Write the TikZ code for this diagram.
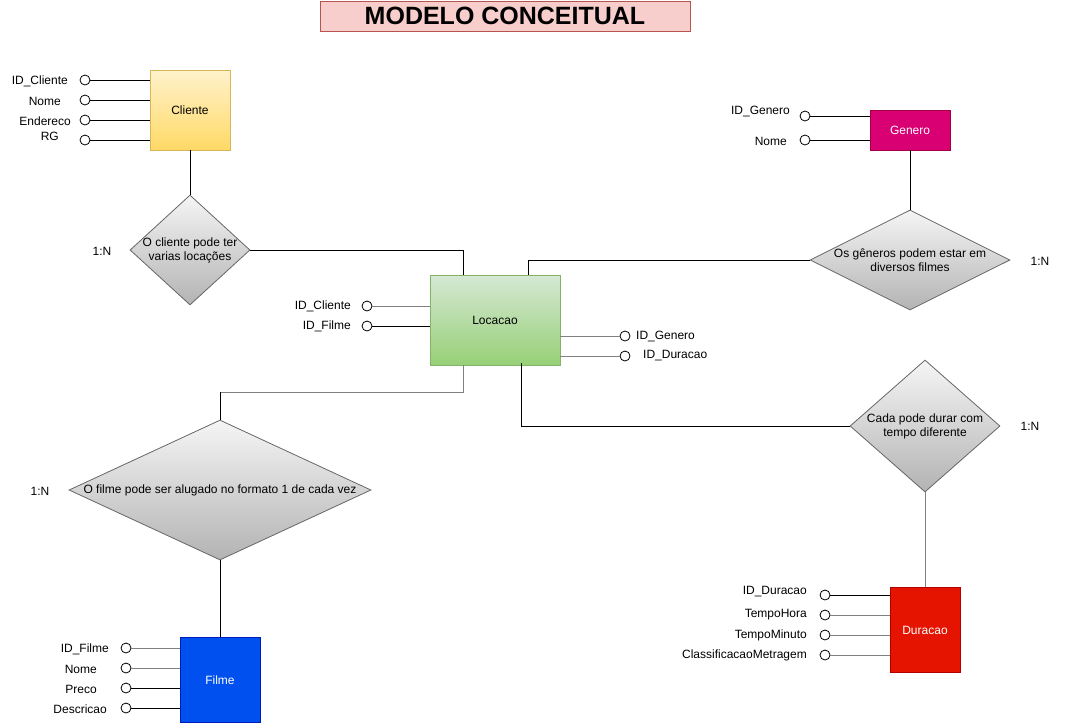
\documentclass[tikz,border=0pt]{standalone}
\usepackage{fontspec}
\setmainfont{Liberation Sans}
\usetikzlibrary{shapes.geometric}
\definecolor{titlefill}{HTML}{F8CECC}
\definecolor{titledraw}{HTML}{B85450}
\definecolor{clitop}{HTML}{FFF2CC}
\definecolor{clibot}{HTML}{FFD966}
\definecolor{clidraw}{HTML}{D6B656}
\definecolor{loctop}{HTML}{D5E8D4}
\definecolor{locbot}{HTML}{97D077}
\definecolor{locdraw}{HTML}{82B366}
\definecolor{dtop}{HTML}{F5F5F5}
\definecolor{dbot}{HTML}{B3B3B3}
\definecolor{ddraw}{HTML}{666666}
\definecolor{genfill}{HTML}{D80073}
\definecolor{gendraw}{HTML}{A50040}
\definecolor{filfill}{HTML}{0050EF}
\definecolor{fildraw}{HTML}{001DBC}
\definecolor{durfill}{HTML}{E51400}
\definecolor{durdraw}{HTML}{B20000}
\definecolor{lgray}{HTML}{808080}
\begin{document}
\begin{tikzpicture}[x=1pt,y=-1pt,
  every node/.style={font=\fontsize{12}{14}\selectfont, inner sep=0pt},
  entity/.style={rectangle, line width=0.8pt},
  attr/.style={circle, draw=black, fill=white, line width=0.8pt, minimum size=10pt},
  lab/.style={anchor=east},
  labr/.style={anchor=west},
  rel/.style={diamond, draw=ddraw, top color=dtop, bottom color=dbot, line width=0.8pt},
  link/.style={line width=1pt, draw=black},
  glink/.style={line width=1pt, draw=lgray}]
\path[use as bounding box] (0,0) rectangle (1070,724);

% title
\node[rectangle, draw=titledraw, fill=titlefill, line width=0.8pt, minimum width=370pt, minimum height=30pt,
  font=\fontsize{25}{29}\selectfont\bfseries] (title) at (505,16) {MODELO CONCEITUAL};

% entities
\node[entity, draw=clidraw, top color=clitop, bottom color=clibot, minimum width=80pt, minimum height=80pt] (cli) at (190,110) {Cliente};
\node[entity, draw=locdraw, top color=loctop, bottom color=locbot, minimum width=130pt, minimum height=90pt] (loc) at (495,320) {Locacao};
\node[entity, draw=gendraw, fill=genfill, text=white, minimum width=80pt, minimum height=40pt] (gen) at (910,130) {Genero};
\node[entity, draw=fildraw, fill=filfill, text=white, minimum width=80pt, minimum height=85pt] (fil) at (220,680) {Filme};
\node[entity, draw=durdraw, fill=durfill, text=white, minimum width=70pt, minimum height=85pt] (dur) at (925,630) {Duracao};

% relationships
\node[rel, minimum width=120pt, minimum height=110pt,
  label={[align=center]center:O cliente pode ter\\varias locações}] (d1) at (190,250) {};
\node[rel, minimum width=200pt, minimum height=100pt,
  label={[align=center]center:Os gêneros podem estar em\\diversos filmes}] (d2) at (910,260) {};
\node[rel, minimum width=302pt, minimum height=140pt,
  label={[align=center]center:O filme pode ser alugado no formato 1 de cada vez}] (d3) at (220,490) {};
\node[rel, minimum width=150pt, minimum height=132pt,
  label={[align=center]center:Cada pode durar com\\tempo diferente}] (d4) at (925,426) {};

% cardinalities
\node (n1) at (102,251) {1:N};
\node (n2) at (1040,261) {1:N};
\node (n3) at (40,491) {1:N};
\node (n4) at (1030,426) {1:N};

% Cliente attributes
\node[attr] (ca1) at (85,80) {};
\node[attr] (ca2) at (85,100) {};
\node[attr] (ca3) at (85,120) {};
\node[attr] (ca4) at (85,140) {};
\node[lab] (cl1) at (68,81) {ID\_Cliente};
\node[lab] (cl2) at (61,101) {Nome};
\node[lab] (cl3) at (71,121) {Endereco};
\node[lab] (cl4) at (59,136) {RG};
\draw[link] (ca1) -- (ca1 -| cli.west);
\draw[link] (ca2) -- (ca2 -| cli.west);
\draw[link] (ca3) -- (ca3 -| cli.west);
\draw[link] (ca4) -- (ca4 -| cli.west);

% Locacao attributes
\node[attr] (la1) at (367,306) {};
\node[attr] (la2) at (367,326) {};
\node[attr] (la3) at (625,336) {};
\node[attr] (la4) at (625,356) {};
\node[lab] (ll1) at (351,306) {ID\_Cliente};
\node[lab] (ll2) at (351,326) {ID\_Filme};
\node[labr] (ll3) at (636,336) {ID\_Genero};
\node[labr] (ll4) at (643,356) {ID\_Duracao};
\draw[glink] (la1) -- (la1 -| loc.west);
\draw[link] (la2) -- (la2 -| loc.west);
\draw[glink] (la3 -| loc.east) -- (la3);
\draw[glink] (la4 -| loc.east) -- (la4);

% Genero attributes
\node[attr] (ga1) at (805,116) {};
\node[attr] (ga2) at (805,140) {};
\node[lab] (gl1) at (790,111) {ID\_Genero};
\node[lab] (gl2) at (787,141) {Nome};
\draw[link] (ga1) -- (ga1 -| gen.west);
\draw[link] (ga2) -- (ga2 -| gen.west);

% Filme attributes
\node[attr] (fa1) at (126,648) {};
\node[attr] (fa2) at (126,668) {};
\node[attr] (fa3) at (126,688) {};
\node[attr] (fa4) at (126,708) {};
\node[lab] (fl1) at (109,649) {ID\_Filme};
\node[lab] (fl2) at (97,669) {Nome};
\node[lab] (fl3) at (97,689) {Preco};
\node[lab] (fl4) at (107,709) {Descricao};
\draw[glink] (fa1) -- (fa1 -| fil.west);
\draw[glink] (fa2) -- (fa2 -| fil.west);
\draw[link] (fa3) -- (fa3 -| fil.west);
\draw[link] (fa4) -- (fa4 -| fil.west);

% Duracao attributes
\node[attr] (da1) at (825,595) {};
\node[attr] (da2) at (825,615) {};
\node[attr] (da3) at (825,635) {};
\node[attr] (da4) at (825,655) {};
\node[lab] (dl1) at (807,592) {ID\_Duracao};
\node[lab] (dl2) at (807,615) {TempoHora};
\node[lab] (dl3) at (807,635) {TempoMinuto};
\node[lab] (dl4) at (807,655) {ClassificacaoMetragem};
\draw[link] (da1) -- (da1 -| dur.west);
\draw[glink] (da2) -- (da2 -| dur.west);
\draw[glink] (da3) -- (da3 -| dur.west);
\draw[glink] (da4) -- (da4 -| dur.west);

% relationship connectors
\coordinate (locA) at (463,275);
\coordinate (locB) at (528,275);
\coordinate (locC) at (463,365);
\coordinate (locD) at (521,363);
\coordinate (bend3) at (220,392);
\draw[link] (cli.south) -- (d1.north);
\draw[link] (d1.east) -| (locA);
\draw[link] (gen.south) -- (d2.north);
\draw[link] (d2.west) -| (locB);
\draw[glink] (locC) |- (bend3);
\draw[link] (bend3) -- (d3.north);
\draw[link] (d3.south) -- (fil.north);
\draw[link] (locD) |- (d4.west);
\draw[glink] (d4.south) -- (dur.north);
\end{tikzpicture}
\end{document}
